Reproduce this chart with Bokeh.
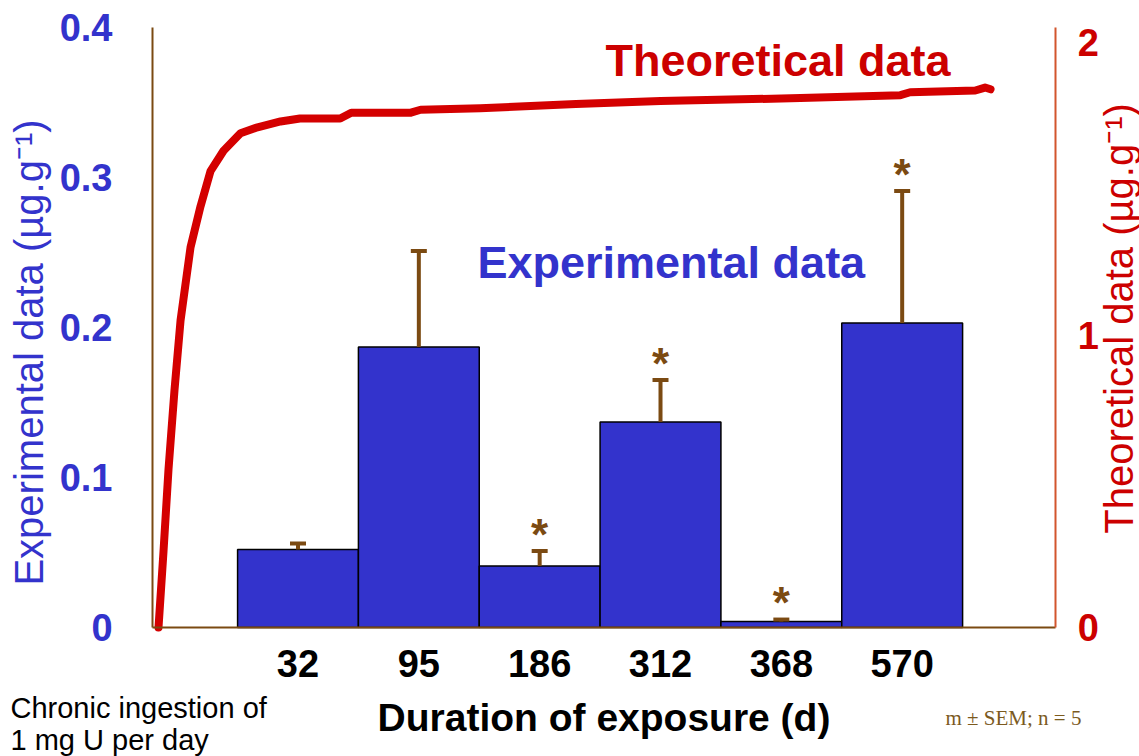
from bokeh.plotting import figure
from bokeh.models import Range1d, LinearAxis, FixedTicker, Label, ColumnDataSource
from bokeh.embed import file_html
from bokeh.resources import INLINE
from bokeh.core.properties import value

# ---- data ----
durations = ["32", "95", "186", "312", "368", "570"]
exp_mean = [0.052, 0.187, 0.041, 0.137, 0.004, 0.203]
exp_sem = [0.004, 0.064, 0.010, 0.028, 0.0013, 0.088]
significant = [False, False, True, True, True, True]

theo_days = [0, 3.6, 7.2, 11.5, 15.9, 23.1, 30.3, 37.5, 46.9, 59.1, 71.4, 88, 102,
             131, 139, 182, 189, 232, 301, 362, 463, 535, 542, 589, 596, 600]
theo_vals = [0, 0.26, 0.54, 0.81, 1.05, 1.30, 1.44, 1.56, 1.63, 1.69, 1.71, 1.73, 1.74,
             1.74, 1.76, 1.76, 1.77, 1.775, 1.79, 1.80, 1.81, 1.82, 1.83, 1.836, 1.846, 1.84]

left_ticks = [0, 0.1, 0.2, 0.3, 0.4]
left_tick_labels = ["0", "0.1", "0.2", "0.3", "0.4"]
right_ticks = [0, 1, 2]

BLUE = "#3333CC"
RED = "#D40000"
BROWN = "#7B4A12"
FONT = "Liberation Sans"
W, H = 1139, 756

pos = [i + 1 for i in range(len(durations))]
src = ColumnDataSource(dict(
    x=pos, top=exp_mean,
    err=[m + s for m, s in zip(exp_mean, exp_sem)],
))
sig_src = ColumnDataSource(dict(
    x=[p_ for p_, s in zip(pos, significant) if s],
    y=[m + e for m, e, s in zip(exp_mean, exp_sem, significant) if s],
    t=["*" for s in significant if s],
))

# the frame spans the whole canvas; axes are pinned with fixed_location
p = figure(width=W, height=H,
           x_range=Range1d(-1.462, 7.964), y_range=Range1d(-0.086, 0.418),
           output_backend="svg", toolbar_location=None,
           min_border_left=0, min_border_right=0,
           min_border_top=0, min_border_bottom=0)
p.extra_y_ranges = {"theo": Range1d(-0.441, 2.1436)}
p.extra_x_ranges = {"days": Range1d(-113.94, 707.4)}
p.grid.visible = False
p.outline_line_color = None
p.background_fill_color = "white"
p.border_fill_color = "white"

X_LEFT, X_RIGHT = -0.204, 7.27

# theoretical curve
p.line(theo_days, theo_vals, x_range_name="days", y_range_name="theo",
       line_width=8, line_color=RED, line_join="round", line_cap="round")

# bars
p.vbar(x="x", top="top", width=1.0, source=src, fill_color=BLUE,
       line_color="black", line_width=1.5)
# error bars (upper)
p.segment(x0="x", y0="top", x1="x", y1="err", source=src,
          line_color=BROWN, line_width=4)
p.scatter(x="x", y="err", source=src, marker="dash", size=16,
          line_color=BROWN, line_width=4)
# significance stars
p.text(x="x", y="y", text="t", source=sig_src, text_color=BROWN,
       text_font=value(FONT), text_font_size="44px", text_font_style="bold",
       text_align="center", text_baseline="middle", y_offset=-17)

# left axis
ya = p.yaxis[0]
ya.fixed_location = X_LEFT
ya.bounds = (0, 0.4)
ya.ticker = FixedTicker(ticks=left_ticks)
ya.major_label_overrides = {t: l for t, l in zip(left_ticks, left_tick_labels)}
ya.major_label_text_color = BLUE
ya.major_label_text_font = FONT
ya.major_label_text_font_size = "38px"
ya.major_label_text_font_style = "bold"
ya.major_label_standoff = 40
ya.major_tick_in = 0
ya.major_tick_out = 0
ya.major_tick_line_color = None
ya.minor_tick_line_color = None
ya.axis_line_color = BROWN
ya.axis_line_width = 2

# right axis
ra = LinearAxis(y_range_name="theo", ticker=FixedTicker(ticks=right_ticks))
ra.fixed_location = X_RIGHT
ra.bounds = (0, 2.05)
ra.major_label_text_color = "#CC0000"
ra.major_label_text_font = FONT
ra.major_label_text_font_size = "38px"
ra.major_label_text_font_style = "bold"
ra.major_label_standoff = 22
ra.major_tick_in = 0
ra.major_tick_out = 0
ra.major_tick_line_color = None
ra.minor_tick_line_color = None
ra.axis_line_color = "#D2552D"
ra.axis_line_width = 2
p.add_layout(ra, "right")

# bottom axis
xa = p.xaxis[0]
xa.fixed_location = 0
xa.bounds = (X_LEFT, X_RIGHT)
xa.ticker = FixedTicker(ticks=pos)
xa.major_label_overrides = {p_: d for p_, d in zip(pos, durations)}
xa.major_label_text_color = "black"
xa.major_label_text_font = FONT
xa.major_label_text_font_size = "38px"
xa.major_label_text_font_style = "bold"
xa.major_label_standoff = 22
xa.major_tick_in = 0
xa.major_tick_out = 0
xa.major_tick_line_color = None
xa.minor_tick_line_color = None
xa.axis_line_color = BROWN
xa.axis_line_width = 2
xa.axis_label = "Duration of exposure (d)"
xa.axis_label_text_color = "black"
xa.axis_label_text_font = FONT
xa.axis_label_text_font_size = "39px"
xa.axis_label_text_font_style = "bold"
xa.axis_label_standoff = 16


def lab(x, y, text, color, size, style="normal", font=FONT, angle=0,
        align="left", baseline="middle"):
    # x, y: screen position from the canvas left / bottom
    p.add_layout(Label(x=x, y=y, x_units="screen", y_units="screen", text=text,
                       text_color=color, text_font=font, text_font_size=size,
                       text_font_style=style, angle=angle, angle_units="deg",
                       text_align=align, text_baseline=baseline))


# in-plot titles
lab(605, H - 60, "Theoretical data", "#CC0000", "45px", "bold")
lab(477, H - 262, "Experimental data", BLUE, "45px", "bold")

# axis titles (both read bottom to top)
lab(28, H - 352, "Experimental data (µg.g⁻¹)", BLUE, "40px", angle=90, align="center")
lab(1118, H - 318, "Theoretical data (µg.g⁻¹)", "#CC0000", "40px", angle=90, align="center")

# footnotes
lab(10, H - 707, "Chronic ingestion of", "black", "29px")
lab(10, H - 739, "1 mg U per day", "black", "29px")
lab(945, H - 717, "m ± SEM; n = 5", "#7B5A1E", "21px", font="Liberation Serif")

open("out.html", "w").write(file_html(p, INLINE))
